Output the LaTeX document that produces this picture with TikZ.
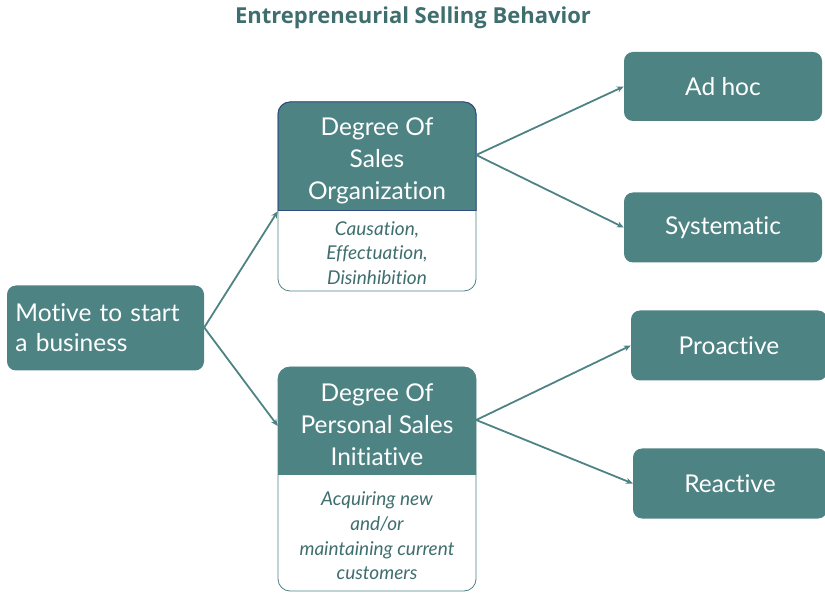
\documentclass[tikz,border=0pt]{standalone}
\usepackage{fontspec}
\setmainfont{Lato}[Ligatures=NoCommon]
\newfontfamily\titlefont{Open Sans}
\usetikzlibrary{arrows.meta,backgrounds}
\definecolor{tealfill}{HTML}{4E8384}
\definecolor{titlecol}{HTML}{3F6E6F}
\definecolor{navyedge}{HTML}{2E4C7E}
\tikzset{
  box/.style={fill=tealfill, rounded corners=9pt, text=white, align=center, inner sep=0pt, font=\fontsize{24.5}{30}\selectfont},
  hdr/.style={text=white, align=center, inner sep=0pt, minimum width=198pt, font=\fontsize{24.5}{32}\selectfont},
  bodytxt/.style={text=titlecol, align=center, inner sep=0pt, minimum width=198pt, font=\fontsize{19}{24.7}\selectfont\itshape},
  arr/.style={draw=tealfill, line width=1.8pt, -{Stealth[length=7pt,width=6pt]}},
}
\begin{document}
\begin{tikzpicture}[x=1pt,y=-1pt]
\useasboundingbox (0,0) rectangle (825,593);
% title
\node[font=\titlefont\bfseries\fontsize{22}{26}\selectfont, text=titlecol] (title) at (413,18) {Entrepreneurial Selling Behavior};
% motive
\node[box, minimum width=197pt, minimum height=85pt, text width=180pt, align=left] (mot) at (105.5,328) {Motive to start\\a business};
% top composite box
\node[hdr, minimum height=109pt] (soh) at (377,161) {Degree Of\\Sales\\Organization};
\node[bodytxt, minimum height=80pt] (sob) at (377,253) {Causation,\\Effectuation,\\Disinhibition};
\begin{scope}[on background layer]
\draw[tealfill, line width=0.8pt, fill=white, rounded corners=12pt] (278,102) rectangle (476,291);
\filldraw[fill=tealfill, draw=navyedge, line width=1pt, rounded corners=12pt] (278,211) -- (278,102) -- (476,102) -- (476,211);
\draw[navyedge, line width=1pt] (278,211) -- (476,211);
\end{scope}
% bottom composite box
\node[hdr, minimum height=108pt] (psh) at (377,425) {Degree Of\\Personal Sales\\Initiative};
\node[bodytxt, minimum height=116pt] (psb) at (377,536) {Acquiring new\\and/or\\maintaining current\\customers};
\begin{scope}[on background layer]
\draw[tealfill, line width=0.8pt, fill=white, rounded corners=12pt] (278,367) rectangle (476,591);
\fill[tealfill, rounded corners=12pt] (278,475) -- (278,367) -- (476,367) -- (476,475);
\end{scope}
% right boxes
\node[box, minimum width=198pt, minimum height=69pt] (adhoc) at (723,86.5) {Ad hoc};
\node[box, minimum width=198pt, minimum height=70pt] (sys) at (723,227.5) {Systematic};
\node[box, minimum width=196pt, minimum height=70pt] (pro) at (729,345.5) {Proactive};
\node[box, minimum width=194pt, minimum height=70pt] (rea) at (730,483.5) {Reactive};
% connectors
\draw[arr] ([yshift=0.5pt]mot.east) -- ([yshift=4.5pt]soh.south west);
\draw[arr] ([yshift=0.5pt]mot.east) -- ([yshift=-1pt]psh.west);
\draw[arr] ([yshift=6pt]soh.east) -- (adhoc.west);
\draw[arr] ([yshift=6pt]soh.east) -- (sys.west);
\draw[arr] ([yshift=5pt]psh.east) -- (pro.west);
\draw[arr] ([yshift=5pt]psh.east) -- (rea.west);
\end{tikzpicture}
\end{document}
